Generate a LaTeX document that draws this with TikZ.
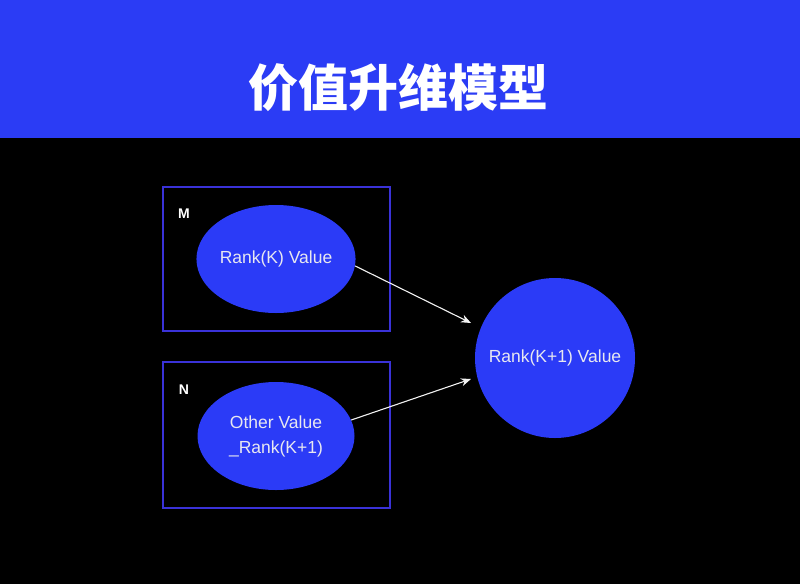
\documentclass[tikz,border=0pt]{standalone}
\usepackage{fontspec}
\setmainfont{Liberation Sans}
\newfontfamily\cjk{Noto Sans CJK SC}
\usetikzlibrary{shapes.geometric,arrows.meta}
\definecolor{hdrblue}{HTML}{2B3CF5}
\definecolor{fillblue}{HTML}{2B3BF7}
\definecolor{boxline}{HTML}{3A32D8}
\definecolor{txt}{HTML}{E8E8F0}
\tikzset{
  frame/.style={draw=boxline, line width=1.2pt},
  blob/.style={ellipse, fill=fillblue, draw=none, minimum width=157pt, minimum height=108pt, inner sep=0pt, text=txt, font=\fontsize{17.5}{25}\selectfont, align=center},
  bigblob/.style={circle, fill=fillblue, draw=none, minimum size=160pt, inner sep=0pt, text=txt, font=\fontsize{17.5}{21}\selectfont},
  tag/.style={text=white, font=\bfseries\fontsize{14}{16}\selectfont, inner sep=0pt},
  link/.style={draw=white!90!gray, line width=1.1pt, -{Stealth[length=10pt,width=8pt]}}
}
\begin{document}
\begin{tikzpicture}[x=1pt,y=-1pt]
\fill[black] (0,0) rectangle (800,584);
\useasboundingbox (0,0) rectangle (800,584);
\fill[hdrblue] (0,0) rectangle (800,138);
\node[text=white, font=\cjk\bfseries\fontsize{50}{54}\selectfont] (title) at (398,88) {价值升维模型};
\node[frame, minimum width=227pt, minimum height=144pt, inner sep=0pt] (boxm) at (276.5,259) {};
\node[frame, minimum width=227pt, minimum height=146pt, inner sep=0pt] (boxn) at (276.5,435) {};
\node[tag] (m) at (184,214) {M};
\node[tag] (n) at (184,390) {N};
\node[blob] (e1) at (276,259) {Rank(K) Value};
\node[blob] (e2) at (276,436) {Other Value\\\_Rank(K+1)};
\node[bigblob] (c) at (555,358) {Rank(K+1) Value};
\coordinate (t1) at (471,323);
\coordinate (t2) at (471,379);
\draw[link] (e1.-5) -- (t1);
\draw[link] (e2.12) -- (t2);
\end{tikzpicture}
\end{document}
